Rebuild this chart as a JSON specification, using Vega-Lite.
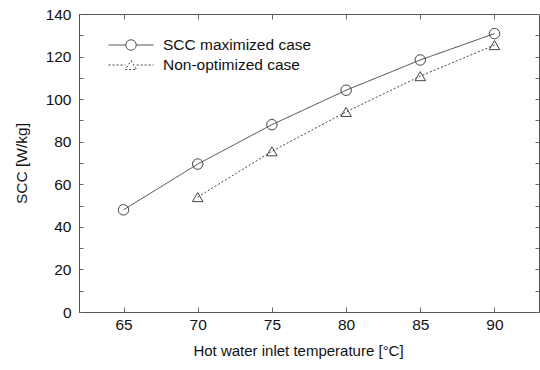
{
  "$schema": "https://vega.github.io/schema/vega-lite/v6.json",
  "autosize": "none",
  "width": 460,
  "height": 298,
  "padding": {"left": 79, "top": 14, "right": 1, "bottom": 58},
  "background": "white",
  "config": {
    "font": "Liberation Sans",
    "view": {"stroke": "#555", "strokeWidth": 1},
    "axis": {"grid": false, "labelFont": "Liberation Sans", "titleFont": "Liberation Sans", "labelColor": "#111", "titleColor": "#111", "labelFontSize": 15.5, "titleFontSize": 15.5, "titleFontWeight": "normal", "domainColor": "#555", "tickColor": "#666"}
  },
  "data": {"values": [
    {"temp": 65, "scc": 48, "series": "SCC maximized case"},
    {"temp": 70, "scc": 69.5, "series": "SCC maximized case"},
    {"temp": 75, "scc": 88, "series": "SCC maximized case"},
    {"temp": 80, "scc": 104.2, "series": "SCC maximized case"},
    {"temp": 85, "scc": 118.4, "series": "SCC maximized case"},
    {"temp": 90, "scc": 130.8, "series": "SCC maximized case"},
    {"temp": 70, "scc": 54, "series": "Non-optimized case"},
    {"temp": 75, "scc": 75.5, "series": "Non-optimized case"},
    {"temp": 80, "scc": 94, "series": "Non-optimized case"},
    {"temp": 85, "scc": 110.8, "series": "Non-optimized case"},
    {"temp": 90, "scc": 125.4, "series": "Non-optimized case"}
  ]},
  "layer": [
    {
      "mark": {"type": "line", "color": "#444", "strokeWidth": 1},
      "encoding": {
        "x": {"field": "temp", "type": "quantitative", "scale": {"domain": [62, 93], "nice": false, "zero": false},
          "axis": {"orient": "bottom", "values": [65, 70, 75, 80, 85, 90], "tickSize": -5, "labelPadding": 10, "title": "Hot water inlet temperature [°C]", "titleFontSize": 15, "titlePadding": 11, "titleX": 219, "titleAlign": "center", "domain": true}},
        "y": {"field": "scc", "type": "quantitative", "scale": {"domain": [0, 140], "nice": false},
          "axis": {"orient": "left", "values": [0, 10, 20, 30, 40, 50, 60, 70, 80, 90, 100, 110, 120, 130, 140], "labelExpr": "datum.value % 20 == 0 ? datum.label : ''", "tickSize": -4, "labelPadding": 12, "title": "SCC [W/kg]", "titlePadding": 16}},
        "strokeDash": {"field": "series", "type": "nominal", "scale": {"domain": ["SCC maximized case", "Non-optimized case"], "range": [[1, 0], [2, 2]]}, "legend": null}
      }
    },
    {
      "mark": {"type": "point", "filled": false, "color": "#444", "strokeWidth": 1, "size": 110, "opacity": 1},
      "encoding": {
        "x": {"field": "temp", "type": "quantitative", "axis": {"orient": "top", "values": [65, 70, 75, 80, 85, 90], "labels": false, "tickSize": -5, "domain": false, "title": null}},
        "y": {"field": "scc", "type": "quantitative", "axis": {"orient": "right", "values": [0, 10, 20, 30, 40, 50, 60, 70, 80, 90, 100, 110, 120, 130, 140], "labels": false, "tickSize": -4, "domain": false, "title": null}},
        "shape": {"field": "series", "type": "nominal", "scale": {"domain": ["SCC maximized case", "Non-optimized case"], "range": ["circle", "triangle-up"]}, "legend": null}
      }
    },
    {
      "transform": [{"filter": "false"}],
      "mark": {"type": "point", "filled": false, "color": "#444", "strokeWidth": 1, "size": 2025, "opacity": 1},
      "encoding": {
        "x": {"field": "temp", "type": "quantitative", "axis": null},
        "y": {"field": "scc", "type": "quantitative", "axis": null},
        "shape": {"field": "series", "type": "nominal", "scale": {"domain": ["SCC maximized case", "Non-optimized case"], "range": ["M-1,0H-0.23M0.23,0H1M0.23,0A0.23,0.23 0 1 0 -0.23,0A0.23,0.23 0 1 0 0.23,0", "M-1,0H-0.25M0.25,0H1M0,-0.2L0.25,0.2L-0.25,0.2Z"]},
          "legend": {"orient": "none", "legendX": 29, "legendY": 21, "title": null, "clipHeight": 20, "symbolSize": 2025, "symbolStrokeWidth": 1, "symbolStrokeColor": "#444", "symbolFillColor": "transparent", "labelFontSize": 15.5, "labelFont": "Liberation Sans", "labelColor": "#111", "labelOffset": 9, "padding": 0, "rowPadding": 0}},
        "strokeDash": {"field": "series", "type": "nominal", "scale": {"domain": ["SCC maximized case", "Non-optimized case"], "range": [[1, 0], [2, 2]]}, "legend": null}
      }
    }
  ],
  "resolve": {
    "scale": {"shape": "independent"},
    "axis": {"x": "independent", "y": "independent"},
    "legend": {"shape": "independent", "strokeDash": "independent"}
  }
}
